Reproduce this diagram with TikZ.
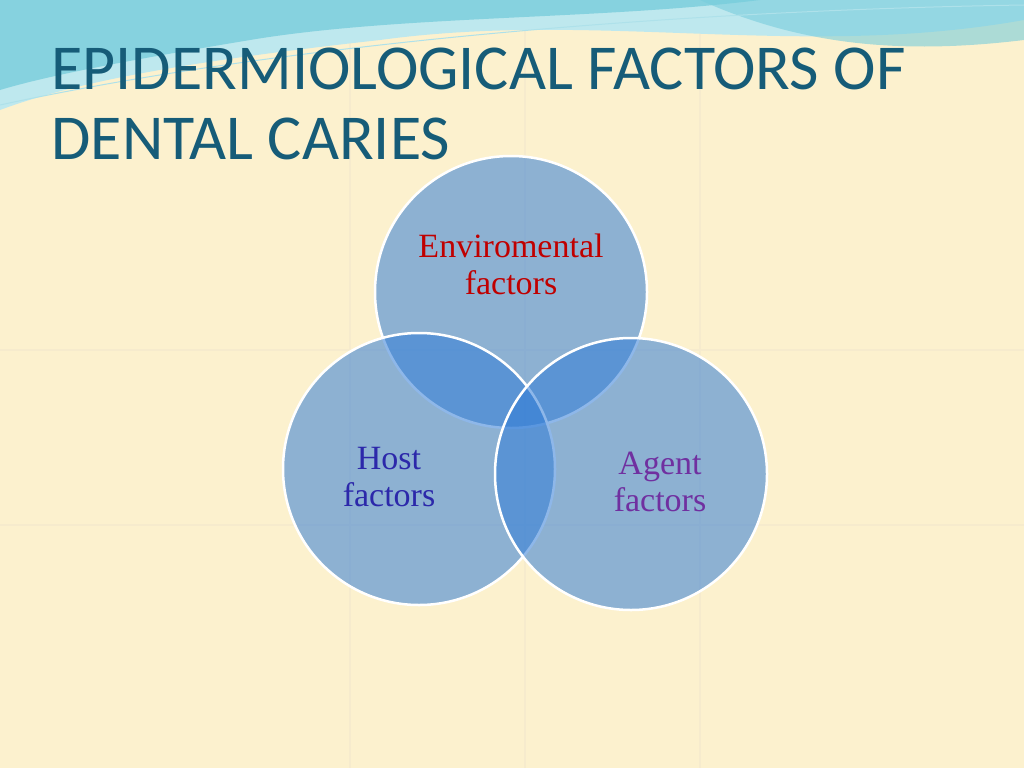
\documentclass[tikz,border=0pt]{standalone}
\usepackage{fontspec}
\setmainfont{Liberation Serif}
\newfontfamily\titlefont{Carlito}
\definecolor{paper}{RGB}{252,241,206}
\definecolor{gridln}{RGB}{246,235,205}
\definecolor{wavea}{RGB}{120,205,220}
\definecolor{waveb}{RGB}{190,232,238}
\definecolor{titleblue}{RGB}{22,92,120}
\definecolor{venn}{RGB}{50,125,215}
\definecolor{envred}{RGB}{192,0,0}
\definecolor{hostblue}{RGB}{44,40,170}
\definecolor{agentpurple}{RGB}{112,48,160}
\tikzset{
  factor/.style={circle,draw=white,line width=2.5pt,fill=venn,fill opacity=0.55,
    text opacity=1,minimum size=272pt,inner sep=0pt},
  factorlabel/.style={font=\fontsize{34}{37}\selectfont,align=center},
}
\begin{document}
\begin{tikzpicture}[x=1pt,y=-1pt]
  \useasboundingbox (0,0) rectangle (1024,768);
  \fill[paper] (0,0) rectangle (1024,768);
  % faint tiles
  \foreach \gx in {350,525,700}
    \draw[gridln,line width=1.5pt] (\gx,0) -- (\gx,768);
  \foreach \gy in {350,525}
    \draw[gridln,line width=1.5pt] (0,\gy) -- (1024,\gy);

  % wave at the top
  \fill[waveb] (0,0) -- (1024,0) -- (1024,20)
    .. controls (800,60) and (600,10) .. (380,40)
    .. controls (200,60) and (80,80) .. (0,110) -- cycle;
  \fill[wavea,opacity=0.8] (0,0) -- (760,0)
    .. controls (600,20) and (400,15) .. (250,40)
    .. controls (130,60) and (50,75) .. (0,90) -- cycle;
  \fill[wavea,opacity=0.6] (700,0) -- (1024,0) -- (1024,40)
    .. controls (900,55) and (800,45) .. (700,0) -- cycle;
  \draw[wavea!60!white,line width=1pt] (0,105) .. controls (300,40) and (700,10) .. (1024,5);

  \node[text=titleblue,font=\titlefont\fontsize{64}{70}\selectfont,
    anchor=north west,align=left] (title) at (48,44)
    {EPIDERMIOLOGICAL FACTORS OF\\DENTAL CARIES};

  \node[factor] (env) at (511,292) {};
  \node[factor] (host) at (419,469) {};
  \node[factor] (agent) at (631,474) {};

  \node[factorlabel,text=envred] (envlabel) at (511,264) {Enviromental\\factors};
  \node[factorlabel,text=hostblue] (hostlabel) at (389,477) {Host\\factors};
  \node[factorlabel,text=agentpurple] (agentlabel) at (660,482) {Agent\\factors};
\end{tikzpicture}
\end{document}
